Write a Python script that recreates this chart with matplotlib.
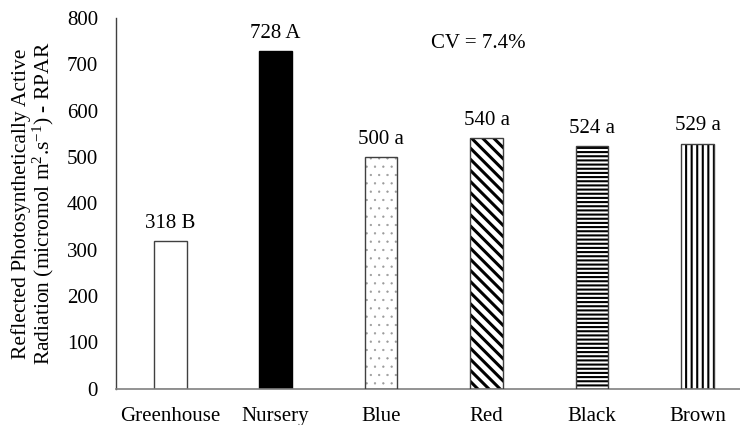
import matplotlib
matplotlib.use("Agg")
import matplotlib.pyplot as plt

categories = ["Greenhouse", "Nursery", "Blue", "Red", "Black", "Brown"]
values = [318, 728, 500, 540, 524, 529]
letters = ["B", "A", "a", "a", "a", "a"]
cv_text = "CV = 7.4%"
yticks = [0, 100, 200, 300, 400, 500, 600, 700, 800]

faces = ["white", "black", "white", "white", "white", "white"]
hatches = [None, None, "..", "\\\\\\", "----", "|||"]
hatch_colors = ["black", "black", "#9a9a9a", "black", "black", "black"]
hatch_lw = [1.0, 1.0, 0.4, 2.2, 1.5, 1.5]

plt.rcParams["font.family"] = ["Liberation Serif", "DejaVu Serif"]
plt.rcParams["mathtext.fontset"] = "custom"
plt.rcParams["mathtext.rm"] = "Liberation Serif"
plt.rcParams["mathtext.it"] = "Liberation Serif:italic"
plt.rcParams["mathtext.bf"] = "Liberation Serif:bold"
FS = 15

fig = plt.figure(figsize=(7.4, 4.25), dpi=100)
ax = fig.add_axes([0.157, 0.085, 0.843, 0.873])

for i, (c, v) in enumerate(zip(categories, values)):
    if hatches[i] is not None:
        with plt.rc_context({"hatch.linewidth": hatch_lw[i]}):
            ax.bar(i, v, width=0.31, color=faces[i], edgecolor=hatch_colors[i],
                   linewidth=0, hatch=hatches[i], zorder=2)
        ax.bar(i, v, width=0.31, color="none", edgecolor="#404040", linewidth=1.0, zorder=3)
    else:
        ax.bar(i, v, width=0.31, color=faces[i],
               edgecolor="#404040" if faces[i] == "white" else "black",
               linewidth=1.0, zorder=2)
    ax.annotate(f"{v} {letters[i]}", xy=(i, v), xytext=(0, 6), textcoords="offset points",
                ha="center", va="bottom", fontsize=FS)

ax.set_xlim(-0.512, 5.403)
ax.set_ylim(0, 800)
ax.set_xticks(range(len(categories)))
ax.set_xticklabels(categories, fontsize=FS)
ax.set_yticks(yticks)
ax.set_yticklabels([str(t) for t in yticks], fontsize=FS)
ax.tick_params(axis="x", length=0, pad=13)
ax.tick_params(axis="y", length=0, pad=13)

for s in ["top", "right"]:
    ax.spines[s].set_visible(False)
ax.spines["left"].set_color("#404040")
ax.spines["bottom"].set_color("#808080")
ax.spines["left"].set_linewidth(1.0)
ax.spines["bottom"].set_linewidth(1.2)

ax.set_ylabel("Reflected Photosynthetically Active\nRadiation (micromol m$^{2}$.s$^{-1}$) - RPAR",
              fontsize=15.5, labelpad=8, linespacing=1.0)

ax.text(0.58, 0.931, cv_text, transform=ax.transAxes, ha="center", va="center", fontsize=FS)

fig.savefig("out.png", dpi=100)
